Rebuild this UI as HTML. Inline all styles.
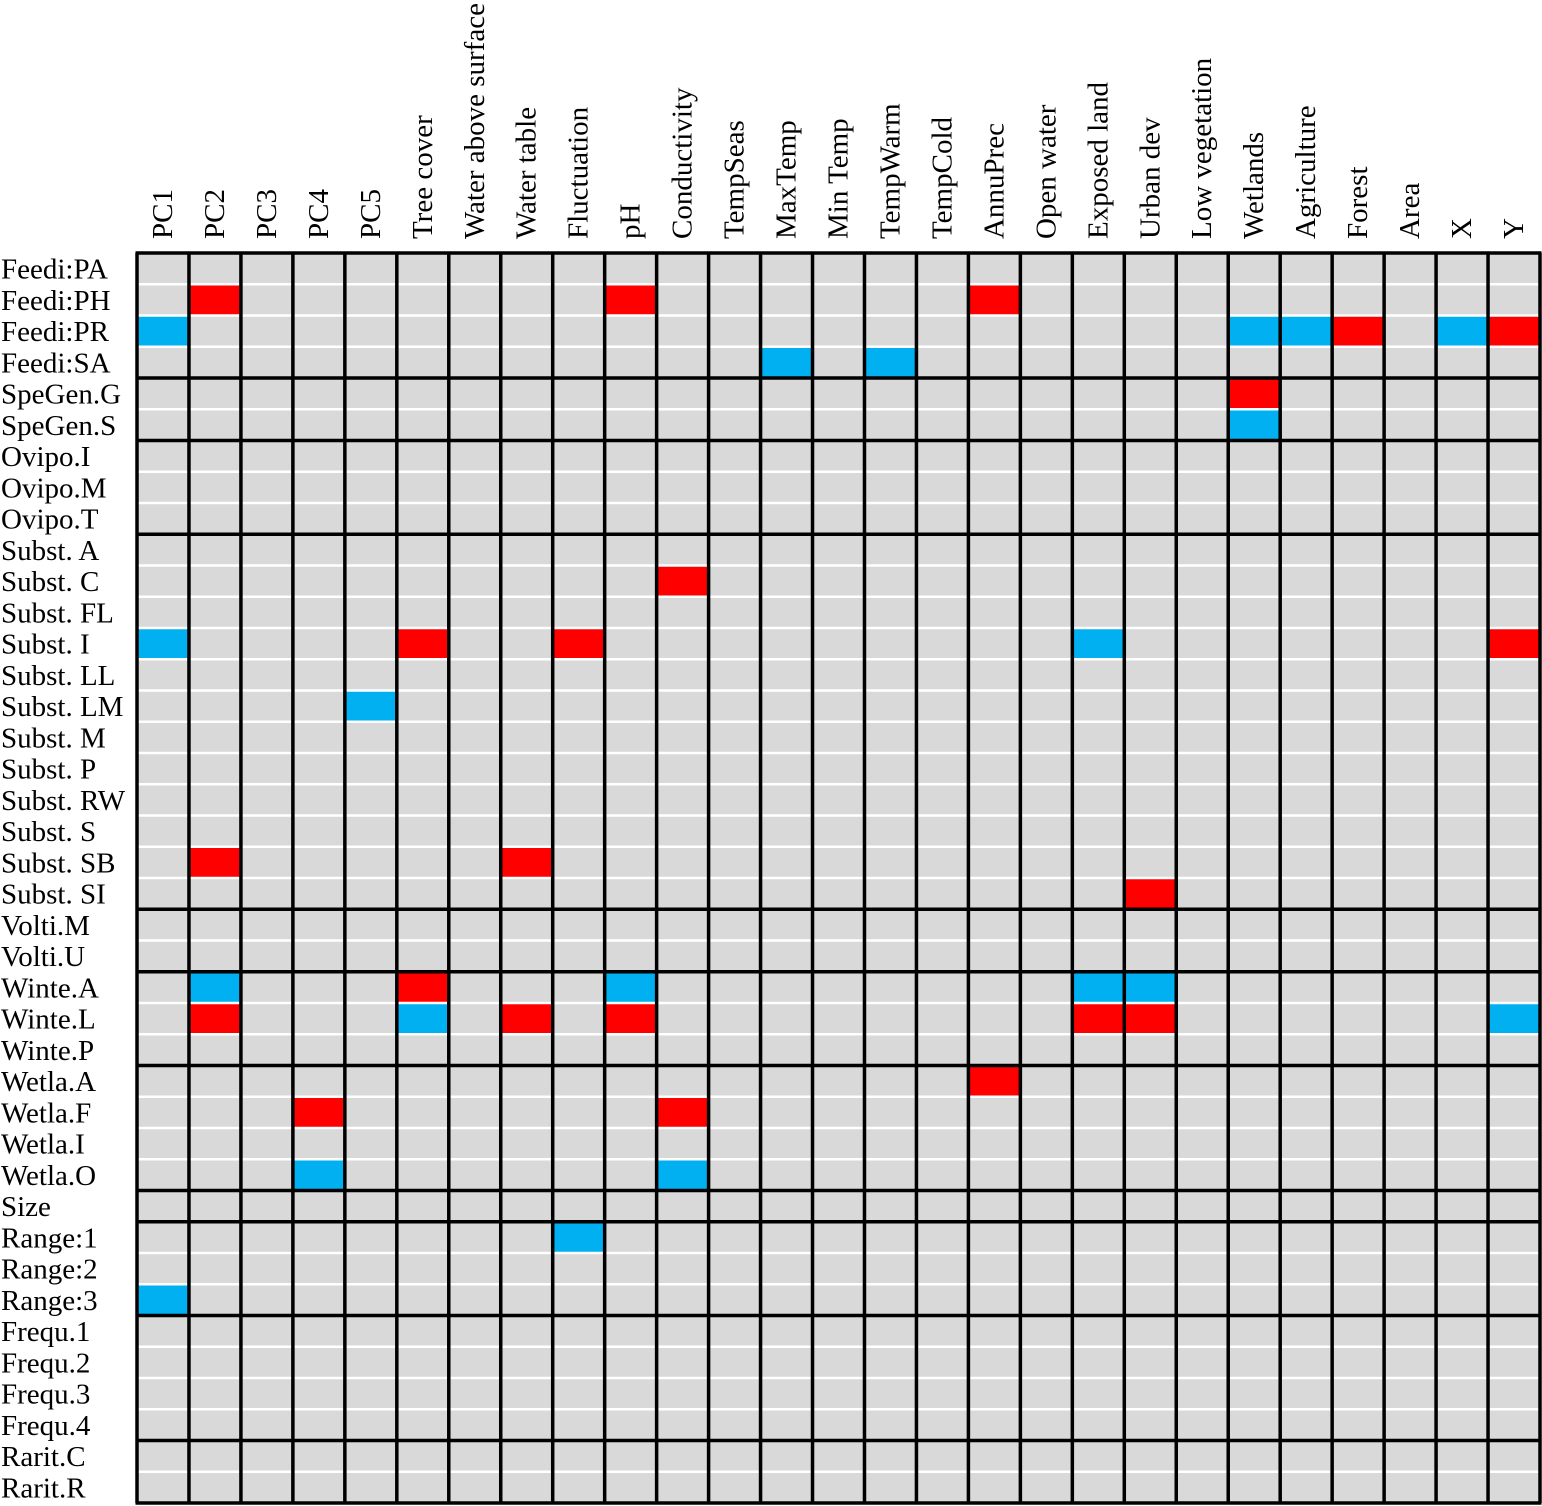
<!DOCTYPE html>
<html><head><meta charset="utf-8"><style>
html,body{margin:0;padding:0;background:#fff;}
svg{display:block;}
text{font-family:"Liberation Serif",serif;font-size:29px;fill:#000;}
</style></head><body>
<svg id="chart" width="1542" height="1506" xmlns="http://www.w3.org/2000/svg"></svg>
<script>
const columns=["PC1","PC2","PC3","PC4","PC5","Tree cover","Water above surface","Water table","Fluctuation","pH","Conductivity","TempSeas","MaxTemp","Min Temp","TempWarm","TempCold","AnnuPrec","Open water","Exposed land","Urban dev","Low vegetation","Wetlands","Agriculture","Forest","Area","X","Y"];
const rows=["Feedi:PA","Feedi:PH","Feedi:PR","Feedi:SA","SpeGen.G","SpeGen.S","Ovipo.I","Ovipo.M","Ovipo.T","Subst. A","Subst. C","Subst. FL","Subst. I","Subst. LL","Subst. LM","Subst. M","Subst. P","Subst. RW","Subst. S","Subst. SB","Subst. SI","Volti.M","Volti.U","Winte.A","Winte.L","Winte.P","Wetla.A","Wetla.F","Wetla.I","Wetla.O","Size","Range:1","Range:2","Range:3","Frequ.1","Frequ.2","Frequ.3","Frequ.4","Rarit.C","Rarit.R"];
const groupSizes=[4,2,3,12,2,3,4,1,3,4,2];
// [rowLabel, columnLabel, sign] : 1 = positive (red), -1 = negative (blue)
const cells=[
["Feedi:PH","PC2",1],["Feedi:PH","pH",1],["Feedi:PH","AnnuPrec",1],
["Feedi:PR","PC1",-1],["Feedi:PR","Wetlands",-1],["Feedi:PR","Agriculture",-1],["Feedi:PR","Forest",1],["Feedi:PR","X",-1],["Feedi:PR","Y",1],
["Feedi:SA","MaxTemp",-1],["Feedi:SA","TempWarm",-1],
["SpeGen.G","Wetlands",1],["SpeGen.S","Wetlands",-1],
["Subst. C","Conductivity",1],
["Subst. I","PC1",-1],["Subst. I","Tree cover",1],["Subst. I","Fluctuation",1],["Subst. I","Exposed land",-1],["Subst. I","Y",1],
["Subst. LM","PC5",-1],
["Subst. SB","PC2",1],["Subst. SB","Water table",1],
["Subst. SI","Urban dev",1],
["Winte.A","PC2",-1],["Winte.A","Tree cover",1],["Winte.A","pH",-1],["Winte.A","Exposed land",-1],["Winte.A","Urban dev",-1],
["Winte.L","PC2",1],["Winte.L","Tree cover",-1],["Winte.L","Water table",1],["Winte.L","pH",1],["Winte.L","Exposed land",1],["Winte.L","Urban dev",1],["Winte.L","Y",-1],
["Wetla.A","AnnuPrec",1],
["Wetla.F","PC4",1],["Wetla.F","Conductivity",1],
["Wetla.O","PC4",-1],["Wetla.O","Conductivity",-1],
["Range:1","Fluctuation",-1],
["Range:3","PC1",-1]
];
const NS="http://www.w3.org/2000/svg";
const svg=document.getElementById('chart');
const X0=137,X1=1540,Y0=253,Y1=1503;
const cw=(X1-X0)/columns.length, rh=(Y1-Y0)/rows.length;
const xs=i=>X0+i*cw, ys=i=>Y0+i*rh;
function mk(t,a){const e=document.createElementNS(NS,t);for(const k in a)e.setAttribute(k,a[k]);svg.appendChild(e);return e;}
let bg=mk('rect',{x:X0,y:Y0,width:X1-X0,height:Y1-Y0,fill:'#d9d9d9'});


cells.forEach(c=>{
  const r=rows.indexOf(c[0]),k=columns.indexOf(c[1]);
  const e=mk('rect',{x:xs(k),y:ys(r),width:cw,height:rh,fill:c[2]>0?'#ff0000':'#00b0f0'});
  
  
});
for(let i=1;i<rows.length;i++){
  const e=mk('line',{x1:X0,x2:X1,y1:ys(i),y2:ys(i),stroke:'#fff','stroke-width':2.5});
  
  
}
for(let i=0;i<=columns.length;i++){
  const e=mk('line',{x1:xs(i),x2:xs(i),y1:Y0,y2:Y1,stroke:'#000','stroke-width':3.5});
  
  
}
let acc=0;const gl=[0];groupSizes.forEach(g=>{acc+=g;gl.push(acc);});
gl.forEach(g=>{
  const e=mk('line',{x1:X0-1.5,x2:X1+1.5,y1:ys(g),y2:ys(g),stroke:'#000','stroke-width':3.5});
  
  
});
rows.forEach((r,i)=>{
  const t=mk('text',{x:1,y:ys(i)+rh/2+10});
  t.textContent=r;
  
  
});
columns.forEach((c,i)=>{
  const cx=xs(i)+cw/2+9, cy=239;
  const t=mk('text',{x:cx,y:cy,transform:`rotate(-90 ${cx} ${cy})`});
  t.textContent=c;
  
  
});
</script>
</body></html>
